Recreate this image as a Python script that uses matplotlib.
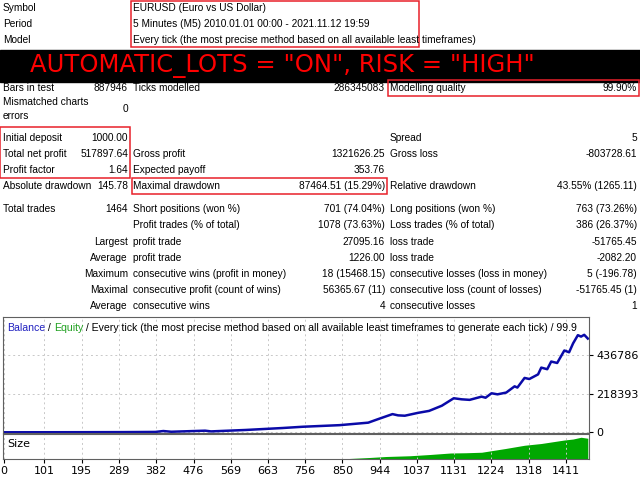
import matplotlib
matplotlib.use("Agg")
import matplotlib.pyplot as plt
from matplotlib.patches import Rectangle

# report header
header_labels = ["Symbol", "Period", "Model"]
header_values = ["EURUSD (Euro vs US Dollar)",
                 "5 Minutes (M5) 2010.01.01 00:00 - 2021.11.12 19:59",
                 "Every tick (the most precise method based on all available least timeframes)"]
banner = 'AUTOMATIC_LOTS = "ON", RISK = "HIGH"'

# stats rows: (y, label1, value1, label2, value2, label3, value3)
stats = [
    (88, "Bars in test", "887946", "Ticks modelled", "286345083", "Modelling quality", "99.90%"),
    (109, "Mismatched charts\nerrors", "0", "", "", "", ""),
    (138, "Initial deposit", "1000.00", "", "", "Spread", "5"),
    (154, "Total net profit", "517897.64", "Gross profit", "1321626.25", "Gross loss", "-803728.61"),
    (170, "Profit factor", "1.64", "Expected payoff", "353.76", "", ""),
    (186, "Absolute drawdown", "145.78", "Maximal drawdown", "87464.51 (15.29%)", "Relative drawdown", "43.55% (1265.11)"),
    (209, "Total trades", "1464", "Short positions (won %)", "701 (74.04%)", "Long positions (won %)", "763 (73.26%)"),
    (225, "", "", "Profit trades (% of total)", "1078 (73.63%)", "Loss trades (% of total)", "386 (26.37%)"),
    (242, "", "Largest", "profit trade", "27095.16", "loss trade", "-51765.45"),
    (258, "", "Average", "profit trade", "1226.00", "loss trade", "-2082.20"),
    (274, "", "Maximum", "consecutive wins (profit in money)", "18 (15468.15)", "consecutive losses (loss in money)", "5 (-196.78)"),
    (290, "", "Maximal", "consecutive profit (count of wins)", "56365.67 (11)", "consecutive loss (count of losses)", "-51765.45 (1)"),
    (306, "", "Average", "consecutive wins", "4", "consecutive losses", "1"),
]

# balance curve (trade number, balance)
bal_trade = [0, 100, 200, 300, 380, 400, 420, 505, 520, 607, 700, 750, 843, 915, 940, 976, 990, 1007, 1040, 1068,
             1100, 1130, 1150, 1170, 1200, 1210, 1225, 1240, 1262, 1283, 1290, 1308, 1320, 1342, 1350, 1365,
             1375, 1390, 1408, 1420, 1430, 1442, 1450, 1458, 1467]
bal_value = [1000, 1200, 1500, 2000, 3000, 8000, 4000, 10000, 6000, 14000, 25000, 32000, 41000, 55000, 75000,
             103000, 96000, 94000, 110000, 121000, 150000, 192000, 186000, 183000, 201000, 195000, 220000, 214000,
             224000, 259000, 252000, 306000, 300000, 326000, 364000, 355000, 398000, 390000, 460000, 450000,
             500000, 546000, 538000, 548000, 527000]

# lot size (relative)
size_trade = [867, 918, 960, 1020, 1070, 1122, 1160, 1200, 1224, 1260, 1308, 1350, 1408, 1430, 1450, 1467]
size_value = [0.02, 0.06, 0.1, 0.13, 0.18, 0.24, 0.25, 0.27, 0.33, 0.42, 0.55, 0.62, 0.76, 0.8, 0.87, 0.83]

xticks = [0, 101, 195, 289, 382, 476, 569, 663, 756, 850, 944, 1037, 1131, 1224, 1318, 1411]
yticks = [0, 218393, 436786]

FONT = "Liberation Sans"
fs = 7.3

fig = plt.figure(figsize=(6.4, 4.8), dpi=100)
bg = fig.add_axes([0, 0, 1, 1])
bg.set_xlim(0, 640)
bg.set_ylim(480, 0)
bg.axis("off")

for i, (lab, val) in enumerate(zip(header_labels, header_values)):
    y = 8 + 16 * i
    bg.text(3, y, lab, fontsize=fs, family=FONT, va="center")
    bg.text(133, y, val, fontsize=fs, family=FONT, va="center")

bg.add_patch(Rectangle((0, 50), 640, 32, color="black"))
bg.text(30, 66, banner, color="#ff0000", fontsize=17.5, family="DejaVu Sans", va="center")

for y, l1, v1, l2, v2, l3, v3 in stats:
    bg.text(3, y, l1, fontsize=fs, family=FONT, va="center", linespacing=1.6)
    bg.text(128, y, v1, fontsize=fs, family=FONT, va="center", ha="right")
    bg.text(133, y, l2, fontsize=fs, family=FONT, va="center")
    bg.text(385, y, v2, fontsize=fs, family=FONT, va="center", ha="right")
    bg.text(390, y, l3, fontsize=fs, family=FONT, va="center")
    bg.text(637, y, v3, fontsize=fs, family=FONT, va="center", ha="right")

for (x0, y0, w, h) in [(131, 1, 288, 46), (388, 80, 251, 16), (0, 127, 130, 51), (132, 178, 255, 16)]:
    bg.add_patch(Rectangle((x0, y0), w, h, fill=False, ec="#e8202a", lw=1.1))

# main chart
ax = fig.add_axes([3 / 640, (480 - 433) / 480, 586 / 640, 116 / 480])
ax.plot(bal_trade, bal_value, color="#0a0aa8", lw=1.8)
ax.set_xlim(-3, 1470)
ax.set_ylim(-3000, 648000)
ax.set_xticks(xticks)
ax.set_xticklabels([])
ax.set_yticks(yticks)
ax.yaxis.tick_right()
ax.tick_params(axis="y", labelsize=8, length=3, pad=2)
ax.tick_params(axis="x", length=0)
for lab in ax.get_yticklabels():
    lab.set_family("DejaVu Sans")
ax.grid(True, color="#c8c8c8", ls=(0, (2, 3)), lw=0.7)
for s in ax.spines.values():
    s.set_color("#606060")

# title in pieces, clipped by the chart frame
r = fig.canvas.get_renderer()
x = 7
parts = [("Balance", "#2020c0"), (" / ", "black"), ("Equity", "#20a020"),
         (" / Every tick (the most precise method based on all available least timeframes to generate each tick) / 99.9", "black")]
for txt, col in parts:
    t = ax.text(x, 328, txt, color=col, fontsize=7.6, family=FONT, va="center",
                transform=bg.transData, clip_on=True)
    bb = t.get_window_extent(r)
    x += bb.width

# size panel
ax2 = fig.add_axes([3 / 640, (480 - 459) / 480, 586 / 640, 25 / 480])
ax2.fill_between(size_trade, 0, size_value, color="#00a800", lw=0)
ax2.set_xlim(-3, 1470)
ax2.set_ylim(0, 1)
ax2.set_yticks([])
ax2.set_xticks(xticks)
ax2.set_xticklabels([str(v) for v in xticks], fontsize=8, family="DejaVu Sans")
ax2.tick_params(axis="x", length=3, pad=2)
ax2.grid(True, axis="x", color="#c8c8c8", ls=(0, (2, 3)), lw=0.7)
ax2.text(8, 0.6, "Size", fontsize=8, family="DejaVu Sans", va="center")
for s in ax2.spines.values():
    s.set_color("#606060")

fig.savefig("out.png", dpi=100)
